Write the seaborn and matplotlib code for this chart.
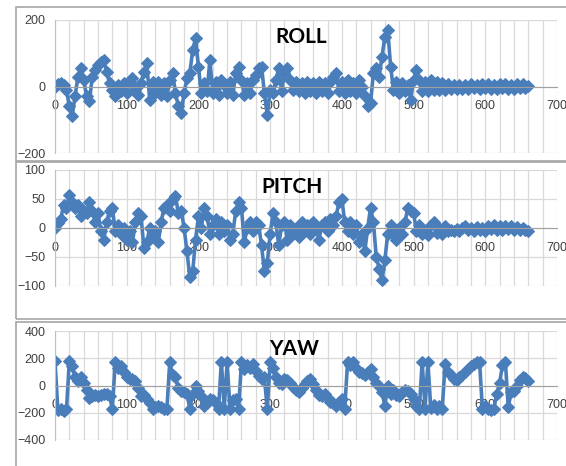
import matplotlib
matplotlib.use("Agg")
import matplotlib.pyplot as plt
from matplotlib.patches import Rectangle
from matplotlib.ticker import MultipleLocator
import numpy as np
import pandas as pd
import seaborn as sns

# sample step of the typed series (one value every 4 samples)
STEP = 4

roll = [0, 8, 12, 5, -10, -60, -88, -30, 30, 55, 20, -30, -45, 30, 50, 65, 75, 80, 45, 10,
        -10, -30, 5, -15, 10, -20, 15, 25, -10, -25, 10, 45, 70, -40, 15, -20, 15, -25, 10, -30,
        20, 40, -20, -60, -80, -20, 25, 40, 110, 145, 60, -20, 10, -15, 80, -20, 15, -25, 20, 5,
        -20, 15, -25, 40, 60, 20, -25, 10, -20, 20, 35, 55, 60, -20, -85, -10, -20, 20, 55, -15,
        40, 55, 20, -10, 15, -15, 10, -20, 15, -15, 10, -20, 15, -15, 10, -20, 15, 30, 40, -15,
        15, -20, 20, -15, 10, -20, 20, 0, -30, -60, -50, 40, 55, 30, 90, 150, 170, 60, -10, 15,
        -20, 10, -15, 5, -40, 20, 50, 20, -15, 15, -15, 20, -10, 15, -12, 12, -10, 8, -8, 6,
        -8, 6, -7, 6, -8, 7, -6, 6, -8, 7, -6, 9, -7, 6, -8, 7, -6, 8, -7, 6,
        -8, 7, -5, 8, -4, 2]

pitch = [0, 8, 15, 40, 35, 57, 45, 35, 40, 20, 30, 25, 45, 30, 10, 25, -5, -20, 10, 30,
         35, -5, 5, -10, 0, -20, -5, -25, 10, 25, 20, -35, -25, 0, -15, -5, -25, 10, 35, 40,
         30, 50, 55, 25, 30, 0, -40, -85, -75, -20, 20, 0, 35, 20, -10, 5, 15, -10, 10, -5,
         5, -20, -10, 30, 45, 35, -25, 0, 10, -5, 10, 5, -30, -75, -60, -10, 25, 10, -30, 5,
         10, -20, 5, -10, 0, -15, 10, -5, 5, -10, 10, 0, -20, 5, 10, -5, 15, 5, 20, 45,
         50, 10, -5, 10, -10, 5, -25, -10, -40, 0, 35, 10, -50, -70, -90, -55, -10, 5, -10, -20,
         0, -10, 10, 35, 30, 25, -5, 5, -10, -5, -12, 5, 10, -8, 0, -10, 3, -5, -3, -6,
         -2, -5, 0, 3, -4, 0, -5, 2, -4, 0, -5, 3, -2, 6, -4, 3, -3, 4, -2, 3,
         -4, 2, -3, 0, -4, -5]

yaw = [180, -180, -175, -185, -175, 180, 140, 60, 30, 60, 20, -30, -90, -80, -70, -75, -70, -65, -60, -80,
       -170, 170, 130, 140, 100, 60, 50, 45, 30, -20, -80, -70, -100, -130, -170, -160, -150, -160, -170, -175,
       170, 80, 60, -20, -40, -50, -60, -170, -60, 0, -40, -80, -150, -130, -100, -110, -130, -170, 175, -170,
       170, -170, -110, -100, -170, 170, 120, 150, 130, 160, 110, 70, 50, 60, -175, 170, 130, 60, 20, 10,
       50, 40, 20, -10, -30, -50, -20, 10, 30, 50, 10, -30, -70, -80, -60, -90, -120, -130, -150, -120,
       -100, -170, 170, 150, 170, 130, 100, 90, 80, 100, 120, 60, 20, 0, -50, -150, 0, -60, -30, -70,
       -80, -50, -30, -40, -60, -100, -150, -170, 175, -170, 170, -165, -140, -170, -150, -170, 160, 100, 80, 50,
       40, 60, 80, 100, 120, 140, 160, 170, 175, -175, -150, -170, -180, -170, -60, 20, 150, 175, -160, -50,
       -40, 0, 40, 60, 55, 30]

panels = [("ROLL", roll, (-200, 200), 200),
          ("PITCH", pitch, (-100, 100), 50),
          ("YAW", yaw, (-400, 400), 200)]

W, H = 566, 466
# plot areas in pixels: (top, bottom); chart boxes: (top, bottom)
plot_rows = [(20, 153), (170, 286), (331, 440)]
box_rows = [(7, 161), (162, 319), (322, 480)]
title_pos = [(301, 37), (292, 187), (294, 349)]
x_left, x_right = 55, 557

BLUE = "#4a7ebb"

sns.set_style("white")
plt.rcParams["font.family"] = ["Liberation Sans", "DejaVu Sans"]

fig = plt.figure(figsize=(W / 100, H / 100), dpi=100)

for (name, vals, ylim, ystep), (top, bot), (btop, bbot), (tx, ty) in zip(
        panels, plot_rows, box_rows, title_pos):
    # Excel-like chart frame
    fig.patches.append(Rectangle((16 / W, 1 - bbot / H), (600 - 16) / W, (bbot - btop) / H,
                                 transform=fig.transFigure, fill=False,
                                 edgecolor="#a6a6a6", lw=1.2))
    ax = fig.add_axes([x_left / W, 1 - bot / H, (x_right - x_left) / W, (bot - top) / H])
    df = pd.DataFrame({"sample": np.arange(len(vals)) * STEP, "angle": vals})
    sns.lineplot(data=df, x="sample", y="angle", ax=ax, color=BLUE, lw=2.6,
                 marker="D", markersize=6.5, markeredgecolor=BLUE,
                 estimator=None, sort=False)
    ax.set_xlim(0, 700)
    ax.set_ylim(*ylim)
    ax.xaxis.set_major_locator(MultipleLocator(100))
    ax.xaxis.set_minor_locator(MultipleLocator(20))
    ax.yaxis.set_major_locator(MultipleLocator(ystep))
    ax.grid(True, which="both", axis="x", color="#d9d9d9", lw=0.9)
    ax.grid(True, which="major", axis="y", color="#d9d9d9", lw=0.9)
    ax.set_axisbelow(True)
    for s in ("top", "right"):
        ax.spines[s].set_visible(False)
    ax.spines["left"].set_color("#bfbfbf")
    ax.spines["bottom"].set_position(("data", 0))
    ax.spines["bottom"].set_color("#a0a0a0")
    ax.tick_params(axis="x", which="both", length=0, pad=10, labelsize=9, labelcolor="#404040")
    ax.tick_params(axis="y", length=4, color="#bfbfbf", pad=3, labelsize=9, labelcolor="#404040")
    ax.set_xlabel("")
    ax.set_ylabel("")
    fig.text(tx / W, 1 - ty / H, name, ha="center", va="center", fontsize=15,
             fontweight="bold", color="#000000", family=["Lato", "Liberation Sans"])

fig.savefig("out.png", dpi=100)
